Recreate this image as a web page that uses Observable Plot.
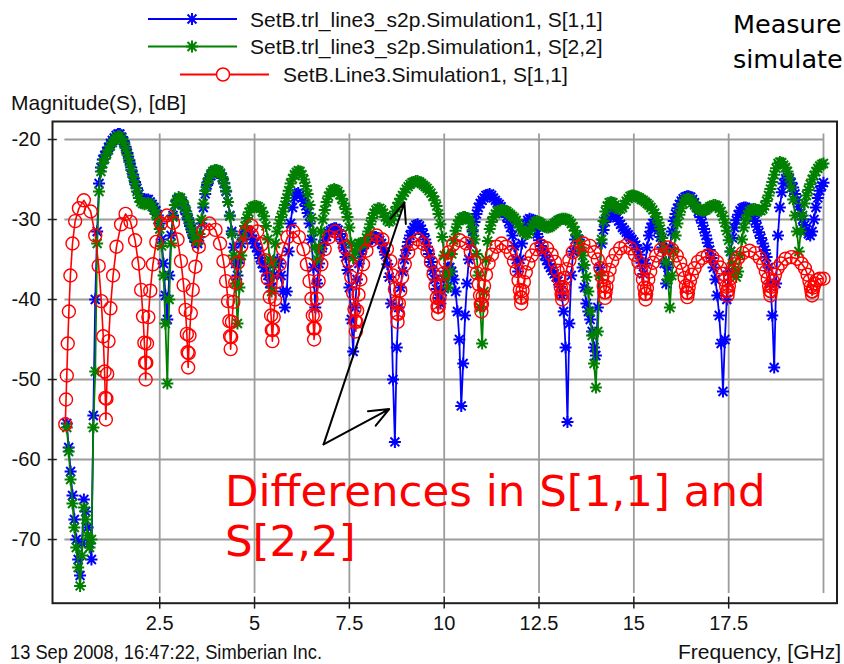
<!DOCTYPE html>
<html>
<head>
<meta charset="utf-8">
<script src="https://cdn.jsdelivr.net/npm/d3@7"></script>
<script src="https://cdn.jsdelivr.net/npm/@observablehq/plot@0.6"></script>
<style>
html, body { margin: 0; padding: 0; background: #fff; overflow: hidden; }
#wrap { position: relative; width: 844px; height: 664px; overflow: hidden; background: #fff; }
#wrap > svg { position: absolute; left: 0; top: 0; }
</style>
</head>
<body>
<div id="wrap"></div>
<script>
// ---------------- DATA ----------------
// Touchstone-based curves are sampled on a uniform sweep
const freqStart = 0.05, freqStep = 0.05; // GHz

const blueDb = [ // SetB.trl_line3_s2p.Simulation1, S[1,1]
-55.5,-58.5,-61.5,-64.5,-67.5,-70,-72.5,-74.5,-70.5,-65,-66.5,-68.5,-70.5,-72.5,-54.5,-40,-31.5,-25.5,-23.5,-22.5,
-22,-21.5,-21,-20.5,-20.1,-19.8,-19.5,-19.3,-19.3,-19.7,-20.2,-20.9,-21.7,-22.6,-23.5,-24.4,-25.3,-26.1,-26.8,-27.3,
-27.5,-27.6,-27.5,-27.5,-27.8,-28.1,-28.5,-28.9,-29.5,-30.5,-32.5,-35.5,-39.5,-42.5,-37,-32,-29.5,-28.2,-27.6,-27.4,
-27.6,-28,-28.6,-29.3,-30,-30.8,-31.6,-32.3,-32.8,-33,-32.2,-30.5,-28.5,-26.8,-25.7,-25,-24.5,-24.2,-24,-23.9,
-24,-24.3,-24.8,-25.5,-26.5,-27.8,-29.5,-31.5,-33.5,-35.5,-37,-35,-33,-32,-31.5,-31.3,-31.5,-32,-32.5,-33,
-33.5,-34,-34.8,-35.5,-36,-36.5,-37,-38,-38.5,-37,-35.5,-35,-35.5,-37,-39,-41,-39,-34,-30.5,-28.5,
-27.3,-26.8,-26.7,-26.9,-27.3,-27.7,-28.3,-29.2,-30.5,-32.5,-36,-41,-38,-35.5,-34,-33.2,-32.6,-32.1,-31.7,-31.4,
-31.2,-31.1,-31.1,-31.3,-31.8,-32.5,-33.5,-34.7,-36.3,-38.5,-42.5,-46.5,-41,-37.5,-35.5,-34.3,-33.6,-33.1,-32.8,-32.6,
-32.4,-32.3,-32.2,-32.2,-32.3,-32.6,-33,-33.6,-34.4,-35.6,-37.2,-40.5,-50,-57.8,-46,-41,-38.5,-36.5,-35,-33.8,
-32.8,-32,-31.4,-31,-30.7,-30.6,-30.8,-31.2,-31.8,-32.5,-33.4,-34.3,-35.3,-36.4,-37.5,-38.7,-39.8,-40.5,-39,-37.5,
-36.5,-36,-36,-36.5,-37.5,-39,-41.5,-45,-53.3,-48,-42,-38,-35,-33,-31.5,-30.3,-29.3,-28.5,-28,-27.6,
-27.3,-27,-26.9,-26.8,-27,-27.3,-27.6,-27.9,-28.1,-28.4,-28.8,-29.2,-29.7,-30.3,-31,-32,-33.3,-35,-36.5,-35,
-33,-31.5,-30.6,-30.1,-29.9,-30,-30.4,-31,-31.8,-32.6,-33.3,-33.9,-34.5,-35.1,-35.6,-36,-36.4,-36.8,-37.2,-37.7,
-38.4,-39.5,-41.5,-46,-55.3,-43,-37,-34,-32.5,-32,-32.5,-34,-36,-38.5,-40.5,-41.5,-42.5,-44,-46,-47,
-41,-36,-33,-31.3,-30.3,-29.7,-29.4,-29.3,-29.3,-29.5,-29.8,-30.2,-30.6,-31,-31.3,-31.6,-31.9,-32.2,-32.5,-32.8,
-33.2,-33.7,-34.4,-35.4,-36.8,-35.5,-33.5,-32,-31,-30.5,-30.5,-30.8,-31.3,-32.2,-33.5,-35.5,-38,-36,-33.5,-31.5,
-30.2,-29.3,-28.6,-28.1,-27.7,-27.4,-27.2,-27.1,-27.1,-27.2,-27.5,-27.9,-28.4,-29,-29.7,-30.4,-31.2,-32,-32.9,-33.8,
-34.8,-36,-37.5,-39.5,-42,-45.5,-51.5,-45,-40,-36.5,-34,-32.3,-31,-30.1,-29.4,-28.9,-28.6,-28.5,-28.5,-28.6,
-28.8,-29.1,-29.6,-30.2,-30.9,-31.6,-32.3,-33,-33.8,-34.7,-36,-38,-42,-48.5,-38,-32,-28.5,-26.6,-25.5,-24.9,
-24.7,-24.9,-25.4,-26,-26.8,-27.6,-28.4,-29.2,-30,-30.7,-31.3,-31.8,-32,-31.5,-30,-28.5,-27.3,-26.4,-25.8,-25.4
];

const greenDb = [ // SetB.trl_line3_s2p.Simulation1, S[2,2]
-56,-59,-62.5,-65.5,-68.5,-71,-73.5,-75.8,-72,-66,-67.5,-69.5,-71,-70,-56,-49,-33,-26.5,-24,-23,
-22.4,-21.8,-21.3,-20.8,-20.4,-20.1,-19.8,-19.6,-19.6,-19.9,-20.4,-21.1,-21.9,-22.8,-23.8,-24.7,-25.6,-26.5,-27.3,-27.8,
-28,-28.1,-28,-27.9,-28.1,-28.4,-28.8,-29.3,-30,-31.2,-33.3,-37,-43,-50.5,-40,-33,-29.7,-28.2,-27.5,-27.2,
-27.3,-27.7,-28.3,-29,-29.8,-30.6,-31.4,-32.1,-32.6,-32.7,-31.8,-30,-28,-26.4,-25.4,-24.8,-24.3,-24,-23.8,-23.8,
-23.9,-24.2,-24.7,-25.4,-26.4,-27.8,-29.6,-31.8,-34.5,-38,-43,-38.5,-34.5,-32.3,-30.8,-29.8,-29.1,-28.6,-28.4,-28.3,
-28.3,-28.4,-28.6,-29,-29.6,-30.8,-32.5,-35,-39,-35.5,-33,-31.5,-30.5,-29.7,-29,-28.2,-27.3,-26.4,-25.5,-24.9,
-24.4,-24.1,-23.9,-24,-24.4,-25,-25.8,-26.8,-28.2,-29.8,-31.5,-33.5,-35,-33.5,-31.5,-30,-28.8,-27.8,-27.1,-26.6,
-26.3,-26.2,-26.3,-26.5,-26.9,-27.4,-28,-28.7,-29.7,-31,-33,-34.8,-34,-33.3,-33,-33,-33,-32.8,-32.3,-31.5,
-30.6,-29.8,-29.2,-28.8,-28.6,-28.6,-28.8,-29.2,-29.7,-30.1,-30.3,-30.1,-29.6,-29,-28.4,-27.9,-27.4,-27,-26.6,-26.2,
-25.9,-25.6,-25.4,-25.3,-25.2,-25.2,-25.3,-25.5,-25.7,-25.9,-26.1,-26.4,-26.7,-27.1,-27.6,-28.3,-29.3,-30.6,-32.2,-34.5,
-37,-38.5,-36.5,-34.3,-32.6,-31.4,-30.6,-30.1,-29.8,-29.7,-29.7,-29.8,-30,-30.5,-31.3,-32.5,-34.3,-37,-41,-45.5,
-39,-35,-32.7,-31.2,-30.3,-29.7,-29.3,-29,-28.9,-28.8,-28.8,-28.9,-29,-29.2,-29.4,-29.6,-29.8,-30.1,-30.5,-30.9,
-31.3,-31.6,-31.8,-31.8,-31.5,-31,-30.6,-30.3,-30.2,-30.3,-30.5,-30.7,-30.9,-31,-31,-30.9,-30.7,-30.5,-30.3,-30.1,
-30,-29.9,-29.9,-29.9,-30,-30.2,-30.5,-30.9,-31.4,-32,-32.7,-33.5,-34.5,-35.7,-37.2,-39,-41.5,-44.5,-48,-51,
-44,-37,-32.5,-30.2,-29,-28.3,-27.9,-27.8,-27.9,-28.2,-28.5,-28.7,-28.7,-28.5,-28.1,-27.7,-27.4,-27.1,-27,-27,
-27.1,-27.2,-27.3,-27.5,-27.6,-27.8,-28,-28.2,-28.5,-28.8,-29.2,-29.7,-30.4,-31.2,-32.3,-33.6,-35.3,-37.5,-41,-37,
-34,-32,-30.5,-29.4,-28.6,-28,-27.6,-27.4,-27.4,-27.6,-27.9,-28.2,-28.5,-28.7,-28.8,-28.9,-28.9,-28.8,-28.6,-28.4,
-28.3,-28.2,-28.2,-28.3,-28.6,-29,-29.6,-30.4,-31.4,-32.6,-34,-35.5,-36.7,-37.2,-36.5,-34.5,-32.5,-31,-30,-29.4,
-29,-28.8,-28.7,-28.7,-28.8,-28.9,-28.9,-28.7,-28.3,-27.7,-27,-26.2,-25.3,-24.4,-23.6,-23,-22.8,-22.9,-23.2,-23.5,
-24,-24.8,-26,-27.5,-29.5,-31.5,-34,-31.5,-29.5,-28,-27,-26.3,-25.6,-25,-24.5,-24,-23.6,-23.3,-23.1,-23
];

// SetB.Line3.Simulation1, S[1,1]  (adaptive sweep: denser near the nulls)
const redFreq = [
0.01,0.03,0.05,0.075,0.105,0.145,0.2,0.27,0.37,0.5,
0.68,0.8,0.89,0.96,1.01,1.045,1.065,1.08,1.095,1.115,1.15,1.2,1.27,1.36,1.48,1.6,
1.73,1.85,1.94,2.01,2.06,2.095,2.115,2.13,2.145,2.165,2.2,2.25,2.32,2.41,2.53,2.69,
2.85,2.97,3.06,3.13,3.18,3.215,3.235,3.25,3.265,3.285,3.32,3.37,3.44,3.53,3.65,3.81,
3.97,4.09,4.18,4.25,4.3,4.335,4.355,4.37,4.385,4.405,4.44,4.49,4.56,4.65,4.77,4.92,
5.07,5.19,5.28,5.35,5.4,5.435,5.455,5.47,5.485,5.505,5.54,5.59,5.66,5.75,5.87,6.02,
6.17,6.29,6.38,6.45,6.5,6.535,6.555,6.57,6.585,6.605,6.64,6.69,6.76,6.85,6.97,7.12,
7.27,7.39,7.48,7.55,7.6,7.635,7.655,7.67,7.685,7.705,7.74,7.79,7.86,7.95,8.07,8.22,
8.37,8.49,8.58,8.65,8.7,8.735,8.755,8.77,8.785,8.805,8.84,8.89,8.96,9.05,9.17,9.31,
9.44,9.56,9.65,9.72,9.77,9.805,9.825,9.84,9.855,9.875,9.91,9.96,10.03,10.12,10.24,10.41,
10.58,10.7,10.79,10.86,10.91,10.945,10.965,10.98,10.995,11.015,11.05,11.1,11.17,11.26,11.38,11.51,
11.63,11.75,11.84,11.91,11.96,11.995,12.015,12.03,12.045,12.065,12.1,12.15,12.22,12.31,12.43,12.57,
12.71,12.83,12.92,12.99,13.04,13.075,13.095,13.11,13.125,13.145,13.18,13.23,13.3,13.39,13.51,13.67,
13.84,13.96,14.05,14.12,14.17,14.205,14.225,14.24,14.255,14.275,14.31,14.36,14.43,14.52,14.64,14.78,
14.91,15.03,15.12,15.19,15.24,15.275,15.295,15.31,15.325,15.345,15.38,15.43,15.5,15.59,15.71,15.9,
16.01,16.13,16.22,16.29,16.34,16.375,16.395,16.41,16.425,16.445,16.48,16.53,16.6,16.69,16.81,16.95,
17.07,17.19,17.28,17.35,17.4,17.435,17.455,17.47,17.485,17.505,17.54,17.59,17.66,17.75,17.87,18.05,
18.2,18.32,18.41,18.48,18.53,18.565,18.585,18.6,18.615,18.635,18.67,18.72,18.79,18.88,19,19.15,
19.3,19.42,19.51,19.58,19.63,19.665,19.685,19.7,19.715,19.735,19.77,19.82,19.9,20
];
const redDb = [
-55.6,-52.5,-49.5,-45.5,-41.5,-37,-33,-30.2,-28.6,-27.6,
-29,-32,-35.8,-40.2,-44.6,-49,-52.3,-55,-52.4,-49.3,-45.2,-41.1,-37,-33.4,-30.6,-29.3,
-30.3,-32.6,-35.5,-38.8,-42.1,-45.4,-47.9,-50,-47.9,-45.5,-42.2,-38.9,-35.6,-32.8,-30.5,-29.5,
-30.4,-32.5,-35.2,-38.2,-41.3,-44.3,-46.6,-48.5,-46.7,-44.5,-41.7,-38.8,-35.9,-33.4,-31.4,-30.5,
-31.3,-33,-35.2,-37.7,-40.2,-42.7,-44.6,-46.2,-44.7,-42.8,-40.3,-37.9,-35.4,-33.3,-31.6,-30.8,
-31.5,-33.1,-35.1,-37.4,-39.7,-42,-43.8,-45.2,-43.8,-42.2,-40,-37.8,-35.6,-33.7,-32.2,-31.5,
-32.2,-33.7,-35.6,-37.7,-39.9,-42,-43.6,-45,-43.6,-42,-39.9,-37.7,-35.6,-33.7,-32.2,-31.5,
-32.1,-33.5,-35.2,-37.2,-39.2,-41.2,-42.7,-44,-42.8,-41.4,-39.4,-37.5,-35.6,-33.9,-32.6,-32,
-32.5,-33.7,-35.2,-37,-38.7,-40.4,-41.7,-42.8,-41.8,-40.5,-38.9,-37.2,-35.6,-34.1,-33,-32.5,
-33,-34,-35.3,-36.8,-38.3,-39.8,-40.9,-41.8,-40.9,-39.8,-38.3,-36.8,-35.2,-34.1,-33.1,-32.6,
-33,-34,-35.3,-36.7,-38.1,-39.5,-40.6,-41.5,-40.6,-39.6,-38.3,-36.9,-35.5,-34.4,-33.4,-33,
-33.4,-34.2,-35.2,-36.4,-37.6,-38.8,-39.7,-40.5,-39.8,-38.9,-37.8,-36.6,-35.5,-34.5,-33.7,-33.3,
-33.6,-34.4,-35.3,-36.4,-37.5,-38.5,-39.3,-40,-39.3,-38.5,-37.3,-36.2,-35.1,-34.1,-33.4,-33,
-33.3,-34.1,-35,-36.1,-37.2,-38.3,-39.1,-39.8,-39.1,-38.4,-37.3,-36.3,-35.2,-34.3,-33.6,-33.3,
-33.6,-34.4,-35.3,-36.4,-37.5,-38.5,-39.3,-40,-39.3,-38.6,-37.5,-36.5,-35.4,-34.5,-33.8,-33.5,
-33.8,-34.5,-35.4,-36.3,-37.3,-38.3,-39.1,-39.7,-39.2,-38.5,-37.7,-36.9,-36.1,-35.3,-34.8,-34.5,
-34.7,-35.3,-36,-36.8,-37.6,-38.4,-39,-39.5,-38.9,-38.3,-37.4,-36.5,-35.6,-34.8,-34.2,-33.9,
-34.2,-34.8,-35.6,-36.5,-37.4,-38.3,-38.9,-39.5,-39,-38.4,-37.7,-36.9,-36.1,-35.5,-34.9,-34.7,
-34.9,-35.5,-36.1,-36.9,-37.7,-38.4,-39,-39.5,-39,-38.5,-38,-37.6,-37.4,-37.4
];

const seriesNames = [
  "SetB.trl_line3_s2p.Simulation1, S[1,1]",
  "SetB.trl_line3_s2p.Simulation1, S[2,2]",
  "SetB.Line3.Simulation1, S[1,1]"
];
const seriesColors = ["#0000ff", "#008000", "#ff0000"];

const xTickValues = [2.5, 5, 7.5, 10, 12.5, 15, 17.5];
const xGridValues = [2.5, 5, 7.5, 10, 12.5, 15, 17.5, 20];
const yTickValues = [-20, -30, -40, -50, -60, -70];

const yAxisTitle = "Magnitude(S), [dB]";
const xAxisTitle = "Frequency, [GHz]";
const footerText = "13 Sep 2008, 16:47:22, Simberian Inc.";
const slideTitleLines = ["Measure", "simulate"];
const noteLines = ["Differences in S[1,1] and", "S[2,2]"];
// annotation arrows (data coordinates: GHz, dB)
const arrowFrom = [6.82, -58.1];
const arrowTips = [[8.95, -27.9], [8.55, -53.7]];

// ---------------- BUILD ----------------
const bluePts = blueDb.map((v, i) => ({ f: +(freqStart + i * freqStep).toFixed(2), db: v }));
const greenPts = greenDb.map((v, i) => ({ f: +(freqStart + i * freqStep).toFixed(2), db: v }));
const redPts = redFreq.map((f, i) => ({ f, db: redDb[i] }));
const arrows = arrowTips.map(([x2, y2]) => ({ x1: arrowFrom[0], y1: arrowFrom[1], x2, y2 }));

const star = {
  draw(context, size) {
    const r = Math.sqrt(size / Math.PI);
    const d = r * 0.74;
    context.moveTo(-r, 0); context.lineTo(r, 0);
    context.moveTo(0, -r); context.lineTo(0, r);
    context.moveTo(-d, -d); context.lineTo(d, d);
    context.moveTo(-d, d); context.lineTo(d, -d);
  }
};

const FONT = "'Liberation Sans', Arial, sans-serif";
const BIG = "'DejaVu Sans', Verdana, sans-serif";
const W = 844, H = 664;

const plot = Plot.plot({
  width: W, height: H,
  marginLeft: 52, marginRight: 7.5, marginTop: 121, marginBottom: 61.3,
  x: { domain: [-0.327, 20.356], axis: null },
  y: { domain: [-77.96, -17.75], axis: null },
  style: { background: "white", fontFamily: FONT },
  marks: [
    Plot.ruleY(yTickValues, { y: d => d, x1: 0, x2: 20, stroke: "#9c9c9c", strokeWidth: 1.8 }),
    Plot.ruleX(xGridValues, { x: d => d, y1: -76.75, y2: -19.3, stroke: "#9c9c9c", strokeWidth: 1.8 }),
    Plot.frame({ stroke: "#1e1e1e", strokeWidth: 2 }),
    Plot.ruleY(yTickValues, { y: d => d, x1: -0.44, x2: -0.2, stroke: "#1e1e1e", strokeWidth: 1.5 }),
    Plot.ruleX(xTickValues, { x: d => d, y1: -77.2, y2: -78.7, stroke: "#1e1e1e", strokeWidth: 1.5 }),
    Plot.text(yTickValues, { y: d => d, text: d => String(d), frameAnchor: "left", textAnchor: "end", dx: -12, fontSize: 20, fill: "#111" }),
    Plot.text(xTickValues, { x: d => d, text: d => String(d), frameAnchor: "bottom", dy: 27, fontSize: 20, fill: "#111" }),
    Plot.line(bluePts, { x: "f", y: "db", stroke: seriesColors[0], strokeWidth: 1.8 }),
    Plot.dot(bluePts, { x: "f", y: "db", symbol: star, r: 6, stroke: seriesColors[0], fill: "none", strokeWidth: 2 }),
    Plot.line(greenPts, { x: "f", y: "db", stroke: seriesColors[1], strokeWidth: 1.8 }),
    Plot.dot(greenPts, { x: "f", y: "db", symbol: star, r: 6, stroke: seriesColors[1], fill: "none", strokeWidth: 2 }),
    Plot.line(redPts, { x: "f", y: "db", stroke: seriesColors[2], strokeWidth: 1.6 }),
    Plot.dot(redPts, { x: "f", y: "db", r: 6.5, stroke: seriesColors[2], fill: "none", strokeWidth: 1.4 }),
    Plot.arrow(arrows, { x1: "x1", y1: "y1", x2: "x2", y2: "y2", stroke: "black", strokeWidth: 2, headLength: 16, headAngle: 45 })
  ]
});

const wrap = document.getElementById("wrap");
wrap.appendChild(plot);

// ---------- overlay: legend, titles, notes ----------
const ov = d3.create("svg").attr("width", W).attr("height", H).attr("viewBox", `0 0 ${W} ${H}`);
const legendLayout = [
  { x1: 148, x2: 237, mx: 192, tx: 250, y: 19, marker: "star" },
  { x1: 148, x2: 237, mx: 192, tx: 250, y: 46.5, marker: "star" },
  { x1: 180, x2: 269, mx: 223, tx: 283, y: 74.5, marker: "circle" }
];
const starPath = d3.symbol(star, Math.PI * 36)();
legendLayout.forEach((L, i) => {
  const g = ov.append("g");
  g.append("line").attr("x1", L.x1).attr("x2", L.x2).attr("y1", L.y).attr("y2", L.y)
    .attr("stroke", seriesColors[i]).attr("stroke-width", 2);
  if (L.marker === "star") {
    g.append("path").attr("d", starPath).attr("transform", `translate(${L.mx},${L.y})`)
      .attr("fill", "none").attr("stroke", seriesColors[i]).attr("stroke-width", 2);
  } else {
    g.append("circle").attr("cx", L.mx).attr("cy", L.y).attr("r", 6.5)
      .attr("fill", "white").attr("stroke", seriesColors[i]).attr("stroke-width", 1.5);
  }
  g.append("text").attr("x", L.tx).attr("y", L.y + 7.5).text(seriesNames[i])
    .attr("font-family", FONT).attr("font-size", 21).attr("fill", "#111");
});

ov.append("text").attr("x", 11).attr("y", 110).text(yAxisTitle)
  .attr("font-family", FONT).attr("font-size", 21).attr("fill", "#111");
ov.append("text").attr("x", 10).attr("y", 659).text(footerText)
  .attr("font-family", FONT).attr("font-size", 20).attr("fill", "#111")
  .attr("textLength", 312).attr("lengthAdjust", "spacingAndGlyphs");
ov.append("text").attr("x", 841).attr("y", 659).attr("text-anchor", "end").text(xAxisTitle)
  .attr("font-family", FONT).attr("font-size", 21).attr("fill", "#111");

slideTitleLines.forEach((t, i) => {
  ov.append("text").attr("x", 733).attr("y", 33 + i * 35).text(t)
    .attr("font-family", BIG).attr("font-size", 25.5).attr("fill", "#000");
});
noteLines.forEach((t, i) => {
  ov.append("text").attr("x", 225).attr("y", 506 + i * 50).text(t)
    .attr("font-family", BIG).attr("font-size", 43.5).attr("fill", "#ff0000");
});

wrap.appendChild(ov.node());
</script>
</body>
</html>
